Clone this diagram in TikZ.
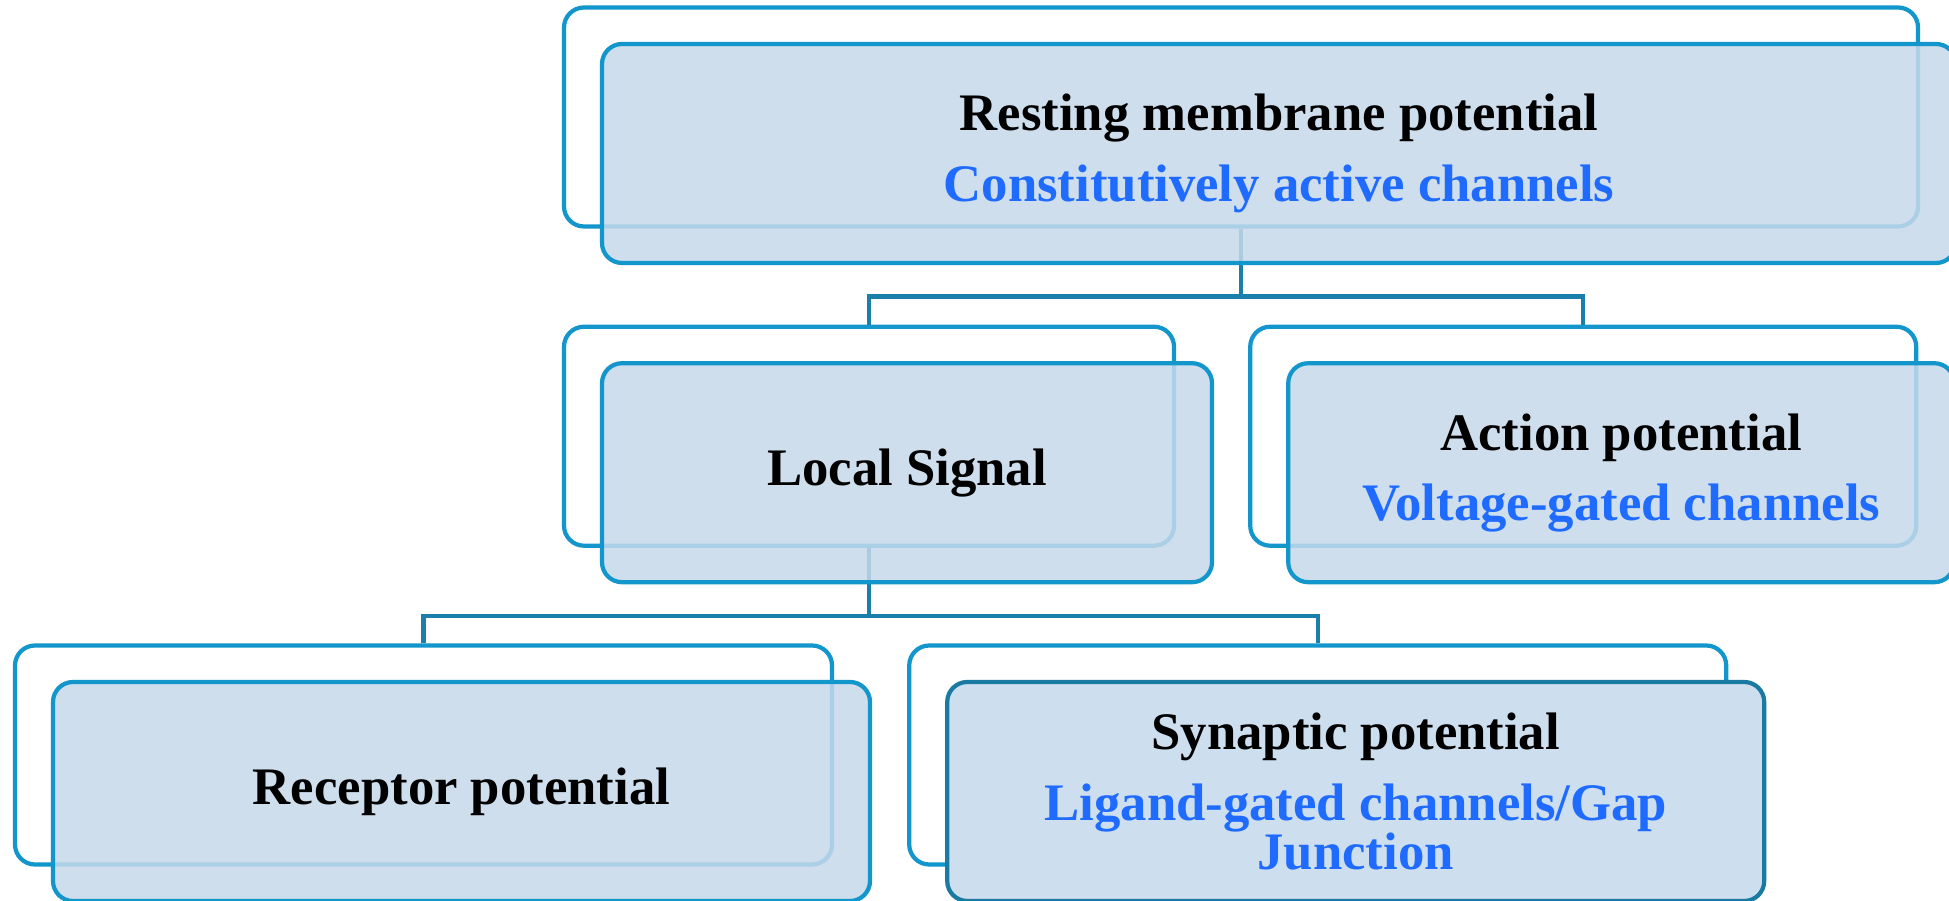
\documentclass[tikz,border=0pt]{standalone}
\usepackage{fontspec}
\setmainfont{Liberation Serif}
\usepackage{xcolor}
\usepackage{tikz}
\usetikzlibrary{positioning}
\definecolor{MBlue}{HTML}{1296CC}
\definecolor{MLine}{HTML}{1A80AB}
\definecolor{MDark}{HTML}{1B7AA2}
\definecolor{MFill}{HTML}{C6D9EB}
\definecolor{MFillS}{HTML}{CDDEEE}
\definecolor{MText}{HTML}{1F6BFF}

\begin{document}
\begin{tikzpicture}[
  node distance=0.96cm and 0.72cm,
  back/.style={draw=MBlue,line width=1.2pt,rounded corners=0.2cm,fill=white,
    minimum height=2.19cm},
  front/.style={back,fill=MFill,fill opacity=0.85,text opacity=1,
    align=center,font=\fontsize{15}{14}\selectfont\bfseries},
  chosen/.style={front,draw=MDark,fill=MFillS,fill opacity=1},
  wide/.style={minimum width=13.54cm},
  half/.style={minimum width=8.17cm},
  a/.style={line width=1.2pt,color=MLine}
]
  \useasboundingbox (0,0) rectangle (19.49,9.01);
  \fill[white] (0,0) rectangle (19.49,9.01);
  % back boxes
  \node[back,wide] (rest) at (12.41,7.84) {};
  \node[back,minimum width=6.10cm,below right=0.96cm and 0cm of rest.south west] (loc) {};
  \node[back,minimum width=6.66cm,right=of loc] (act) {};
  \node[back,half] (rec) at (4.235,1.46) {};
  \node[back,half,right=0.73cm of rec] (syn) {};
  \draw[a] (rest.south) -- ++(0,-0.68) -| (loc.north);
  \draw[a] (rest.south) -- ++(0,-0.68) -| (act.north);
  \draw[a] (loc.south) -- ++(0,-0.68) -| (rec.north);
  \draw[a] (loc.south) -- ++(0,-0.68) -| (syn.north);
  % front boxes
  \node[front,wide] (restf) at ([shift={(0.38,-0.365)}]rest)
    {Resting membrane potential\\[6pt]\color{MText}Constitutively active channels};
  \node[front,minimum width=6.10cm] (locf) at ([shift={(0.38,-0.365)}]loc)
    {Local Signal};
  \node[front,minimum width=6.66cm] (actf) at ([shift={(0.38,-0.365)}]act)
    {Action potential\\[6pt]\color{MText}Voltage-gated channels};
  \node[front,half] (recf) at ([shift={(0.38,-0.365)}]rec)
    {Receptor potential};
  \node[chosen,half] (synf) at ([shift={(0.38,-0.365)}]syn)
    {Synaptic potential\\[6pt]\color{MText}Ligand-gated channels/Gap\\\color{MText}Junction};
\end{tikzpicture}
\end{document}
